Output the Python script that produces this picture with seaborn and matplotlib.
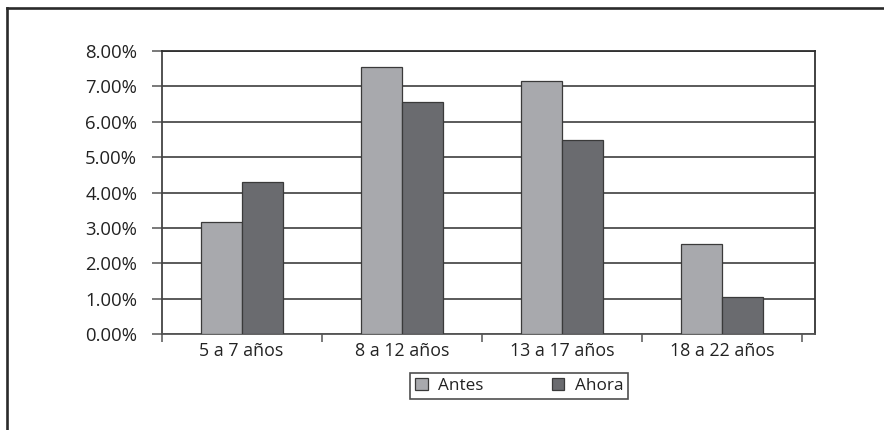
import matplotlib
matplotlib.use("Agg")
import matplotlib.pyplot as plt
from matplotlib.lines import Line2D
from matplotlib.ticker import FixedLocator, FuncFormatter
import seaborn as sns
import pandas as pd

# Age groups and share of each group, before and now (percent)
categories = ["5 a 7 años", "8 a 12 años", "13 a 17 años", "18 a 22 años"]
antes = [3.16, 7.55, 7.14, 2.54]
ahora = [4.29, 6.54, 5.47, 1.05]
series_names = ["Antes", "Ahora"]
y_ticks = [0, 1, 2, 3, 4, 5, 6, 7, 8]

df = pd.DataFrame({
    "grupo": categories * 2,
    "valor": antes + ahora,
    "serie": [series_names[0]] * len(categories) + [series_names[1]] * len(categories),
})

sns.set_style("white")
plt.rcParams["font.family"] = ["Open Sans", "DejaVu Sans"]

W, H = 884, 430
fig = plt.figure(figsize=(W / 100, H / 100), dpi=100)
ax = fig.add_axes([161.5 / W, 1 - 334.3 / H, (814.7 - 161.5) / W, (334.3 - 50.7) / H])

palette = {"Antes": "#a8a9ad", "Ahora": "#6a6b6f"}
sns.barplot(data=df, x="grupo", y="valor", hue="serie", hue_order=series_names,
            order=categories, palette=palette, width=0.512, dodge=True,
            edgecolor="#3a3a3a", linewidth=0.9, saturation=1, ax=ax, zorder=3)

ax.set_ylim(0, 8)
ax.set_xlim(-0.5, 3.579)
ax.set_yticks(y_ticks)
ax.yaxis.set_major_formatter(FuncFormatter(lambda v, p: f"{v:.2f}%"))
ax.grid(axis="y", color="#2e2e2e", linewidth=1.1, zorder=0)
ax.set_axisbelow(True)

# Category boundaries carry the tick marks; labels sit at category centres
ax.xaxis.set_major_locator(FixedLocator([-0.5, 0.5, 1.5, 2.5, 3.5]))
ax.xaxis.set_major_formatter(FuncFormatter(lambda v, p: ""))
ax.xaxis.set_minor_locator(FixedLocator([0, 1, 2, 3]))
ax.set_xticklabels(categories, minor=True)
ax.tick_params(axis="x", which="major", direction="out", length=6, width=1.1,
               color="#555555", bottom=True)
ax.tick_params(axis="x", which="minor", length=0, pad=5.5, labelsize=12.8,
               labelcolor="#222222", bottom=True)
ax.tick_params(axis="y", direction="out", length=7.5, width=1.1, color="#555555",
               pad=10, labelsize=13.3, labelcolor="#222222", left=True)
ax.set_xlabel("")
ax.set_ylabel("")

for side in ["left", "right", "top", "bottom"]:
    ax.spines[side].set_visible(True)
    ax.spines[side].set_linewidth(1.3)
ax.spines["left"].set_color("#444444")
ax.spines["bottom"].set_color("#555555")
ax.spines["right"].set_color("#333333")
ax.spines["top"].set_color("#2e2e2e")

handles, labels = ax.get_legend_handles_labels()
if ax.legend_:
    ax.legend_.remove()
leg = fig.legend(handles, labels, ncol=2, loc="center",
                 bbox_to_anchor=(519 / W, 1 - 386 / H), frameon=True,
                 fancybox=False, edgecolor="#222222", fontsize=12.3,
                 handlelength=0.75, handleheight=0.75, handletextpad=0.6,
                 columnspacing=4.0, borderpad=0.3, borderaxespad=0)
leg.get_frame().set_linewidth(1.2)
for t in leg.get_texts():
    t.set_color("#222222")

# Outer frame: top and left borders
fig.add_artist(Line2D([7.5 / W, 7.5 / W], [0, 1 - 7.5 / H], transform=fig.transFigure,
                      color="#2a2a2a", linewidth=1.9, solid_capstyle="projecting"))
fig.add_artist(Line2D([7.5 / W, 1], [1 - 7.5 / H, 1 - 7.5 / H], transform=fig.transFigure,
                      color="#2a2a2a", linewidth=1.9, solid_capstyle="projecting"))

fig.savefig("out.png", dpi=100, facecolor="white")
